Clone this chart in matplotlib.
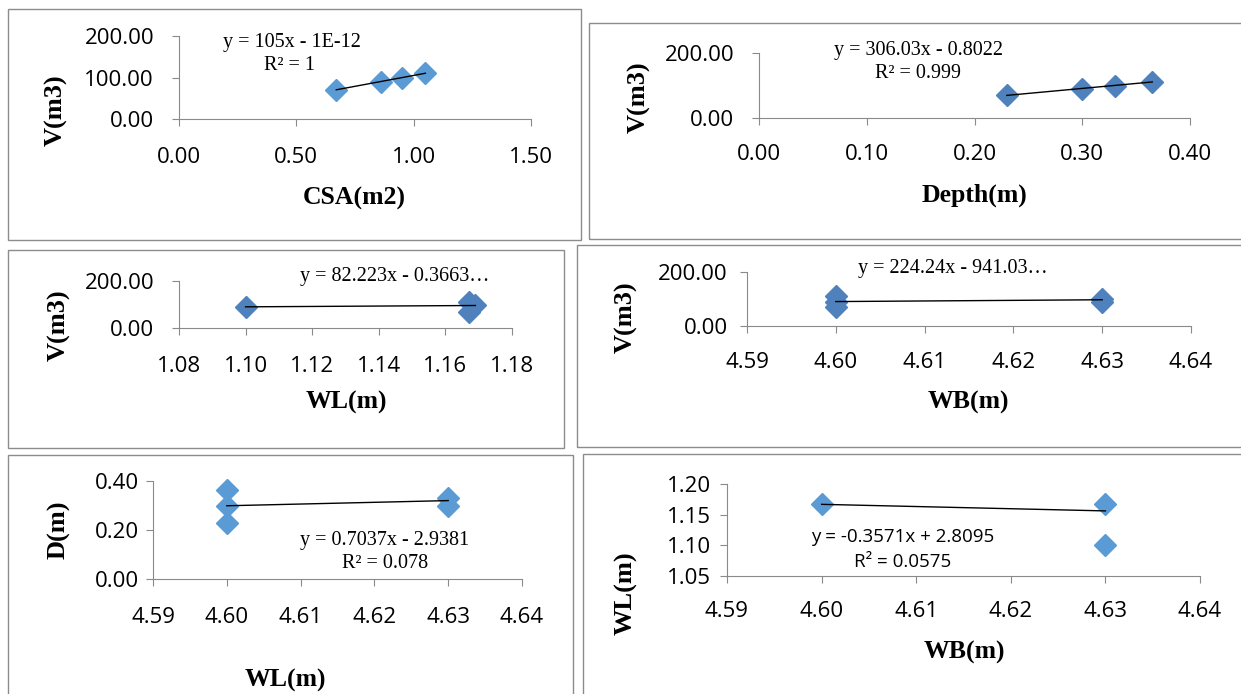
import matplotlib.pyplot as plt
from matplotlib.patches import Rectangle
from matplotlib.ticker import FormatStrFormatter
import numpy as np

plt.rcParams['font.family'] = ['Open Sans', 'DejaVu Sans']

W, H = 1241, 694

# panel 1: V vs CSA
csa = [0.67, 0.86, 0.95, 1.05]
v_csa = [70, 90, 100, 110]
# panel 2: V vs depth
depth = [0.23, 0.30, 0.33, 0.365]
v_depth = [70, 90, 100, 110]
# panel 3: V vs WL
wl = [1.10, 1.167, 1.167, 1.169]
v_wl = [90, 70, 110, 100]
# panel 4: V vs WB
wb = [4.60, 4.60, 4.60, 4.63, 4.63]
v_wb = [70, 90, 110, 100, 90]
# panel 5: D vs WB
wb_d = [4.60, 4.60, 4.60, 4.63, 4.63]
d_wb = [0.23, 0.30, 0.365, 0.33, 0.30]
# panel 6: WL vs WB
wb_wl = [4.60, 4.63, 4.63]
wl_wb = [1.167, 1.167, 1.10]

# trendlines as printed on the charts (slope, intercept)
fit_csa = (105, -1e-12)
fit_depth = (306.03, -0.8022)
fit_wl = (82.223, -0.3663)
fit_wb = (224.24, -941.03)
fit_d = (0.7037, -2.9381)
fit_wl_wb = (-0.3571, 2.8095)

gray = '#8a8a8a'
light = '#5b9bd5'
dark = '#4f81bd'

fig = plt.figure(figsize=(W / 100, H / 100), dpi=100)
fig.patch.set_facecolor('white')


def fx(x):
    return x / W


def fy(y):
    return 1 - y / H


def box(x0, y0, x1, y1):
    fig.patches.append(Rectangle((fx(x0), fy(y1)), (x1 - x0) / W, (y1 - y0) / H,
                                 transform=fig.transFigure, fill=False,
                                 ec='#8c8c8c', lw=1.0))


def panel(x0, y0, x1, y1, xs, ys, fit, color, xlim, xticks, ylim, yticks,
          xpad, ypad):
    ax = fig.add_axes([fx(x0), fy(y1), (x1 - x0) / W, (y1 - y0) / H])
    ax.patch.set_alpha(0)
    ax.plot(xs, ys, 'D', ms=11.5, color=color, mec=color, zorder=3, clip_on=False)
    lx = np.array([min(xs), max(xs)])
    ax.plot(lx, fit[0] * lx + fit[1], color='black', lw=1.0, zorder=4)
    ax.set_xlim(xlim)
    ax.set_ylim(ylim)
    ax.set_xticks(xticks)
    ax.set_yticks(yticks)
    ax.xaxis.set_major_formatter(FormatStrFormatter('%.2f'))
    ax.yaxis.set_major_formatter(FormatStrFormatter('%.2f'))
    for s in ['top', 'right']:
        ax.spines[s].set_visible(False)
    for s in ['left', 'bottom']:
        ax.spines[s].set_color(gray)
        ax.spines[s].set_linewidth(0.8)
    ax.tick_params(direction='out', length=5, width=0.8, color=gray,
                   labelsize=16, labelcolor='black')
    ax.tick_params(axis='x', pad=xpad)
    ax.tick_params(axis='y', pad=ypad)
    return ax


# borders of the six chart boxes
box(8, 9, 581, 240)
box(589, 23, 1246, 239)
box(8, 250, 564, 448)
box(577, 245, 1246, 447)
box(8, 455, 573, 700)
box(583, 454, 1246, 700)

panel(179, 36, 531, 119, csa, v_csa, fit_csa, light,
      (0, 1.5), [0, 0.5, 1.0, 1.5], (0, 200), [0, 100, 200], 15, 13)
panel(759, 53, 1190, 118, depth, v_depth, fit_depth, dark,
      (0, 0.4), [0, 0.1, 0.2, 0.3, 0.4], (0, 200), [0, 200], 14, 13)
panel(179, 281, 512, 328, wl, v_wl, fit_wl, dark,
      (1.08, 1.18), [1.08, 1.10, 1.12, 1.14, 1.16, 1.18], (0, 200), [0, 200], 15, 13)
panel(747, 272, 1191, 326, wb, v_wb, fit_wb, dark,
      (4.59, 4.64), [4.59, 4.60, 4.61, 4.62, 4.63, 4.64], (0, 200), [0, 200], 14, 9)
panel(153, 481, 522, 579, wb_d, d_wb, fit_d, light,
      (4.59, 4.64), [4.59, 4.60, 4.61, 4.62, 4.63, 4.64], (0, 0.4), [0, 0.2, 0.4], 15, 5)
panel(727, 484, 1200, 576, wb_wl, wl_wb, fit_wl_wb, light,
      (4.59, 4.64), [4.59, 4.60, 4.61, 4.62, 4.63, 4.64], (1.05, 1.20),
      [1.05, 1.10, 1.15, 1.20], 13, 6.5)

# trendline equations
serif = 'Liberation Serif'
eq = dict(ha='center', va='center', family=serif, fontsize=14.5)
fig.text(fx(292), fy(42), 'y = 105x - 1E-12', **eq)
fig.text(fx(290), fy(65), 'R² = 1', **eq)
fig.text(fx(918), fy(50), 'y = 306.03x - 0.8022', **eq)
fig.text(fx(918), fy(73), 'R² = 0.999', **eq)
fig.text(fx(395), fy(277), 'y = 82.223x - 0.3663…', **eq)
fig.text(fx(953), fy(268), 'y = 224.24x - 941.03…', **eq)
fig.text(fx(385), fy(540), 'y = 0.7037x - 2.9381', **eq)
fig.text(fx(385), fy(563), 'R² = 0.078', **eq)
fig.text(fx(903), fy(537), 'y = -0.3571x + 2.8095', ha='center', va='center', fontsize=13.5)
fig.text(fx(903), fy(562), 'R² = 0.0575', ha='center', va='center', fontsize=13.5)

# axis titles
xl = dict(ha='center', va='center', family=serif, fontweight='bold', fontsize=18.5)
yl = dict(ha='center', va='center', family=serif, fontweight='bold', fontsize=19,
          rotation=90)
fig.text(fx(354), fy(198), 'CSA(m2)', **xl)
fig.text(fx(974), fy(195), 'Depth(m)', **xl)
fig.text(fx(346), fy(402), 'WL(m)', **xl)
fig.text(fx(968), fy(402), 'WB(m)', **xl)
fig.text(fx(285), fy(680), 'WL(m)', **xl)
fig.text(fx(964), fy(652), 'WB(m)', **xl)
fig.text(fx(56), fy(110), 'V(m3)', **yl)
fig.text(fx(639), fy(97), 'V(m3)', **yl)
fig.text(fx(59), fy(325), 'V(m3)', **yl)
fig.text(fx(626), fy(317), 'V(m3)', **yl)
fig.text(fx(59), fy(530), 'D(m)', **yl)
fig.text(fx(626), fy(593), 'WL(m)', **yl)

fig.savefig('out.png', dpi=100)
